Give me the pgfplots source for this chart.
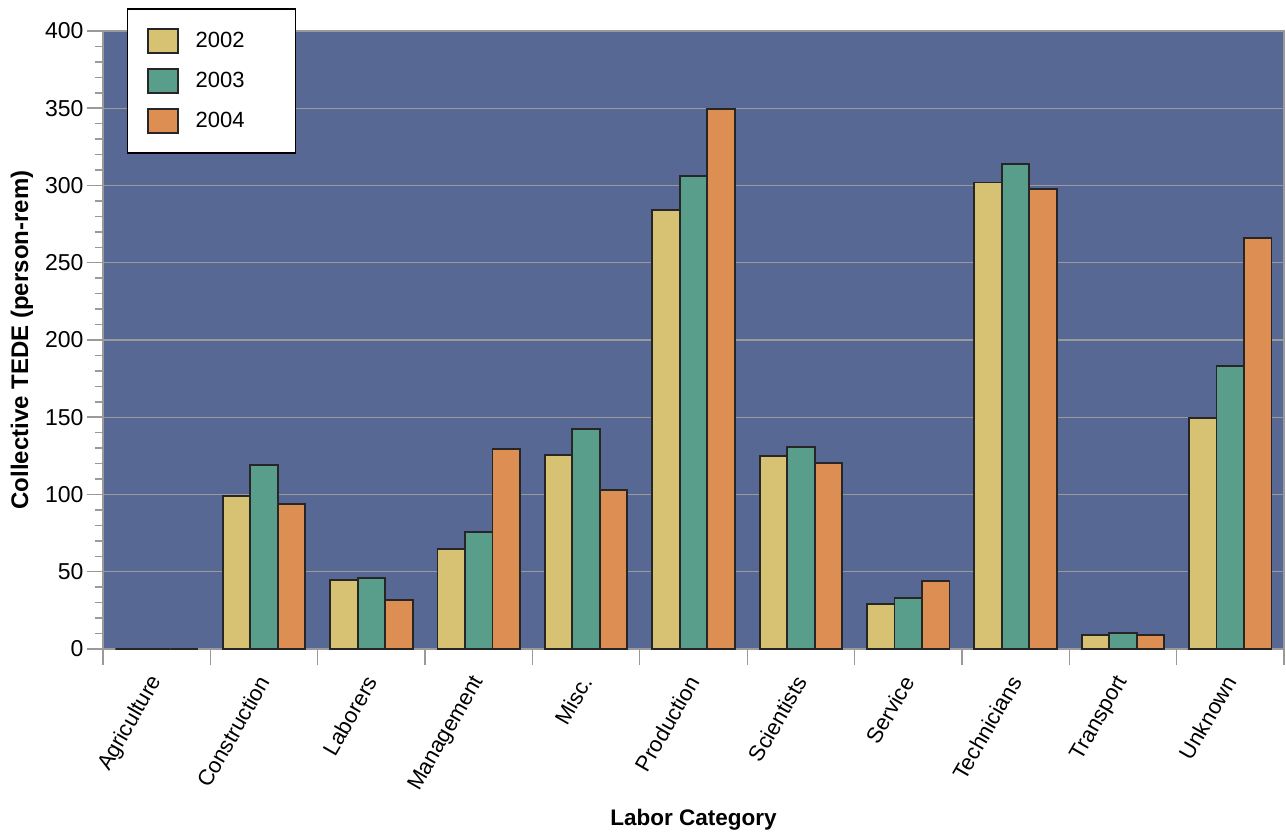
\documentclass[border=0pt]{standalone}
\usepackage{pgfplots}
\pgfplotsset{compat=1.18}
\usepackage{fontspec}
\setmainfont{Liberation Sans}
\definecolor{bgblue}{HTML}{566893}
\definecolor{cA}{HTML}{D7C173}
\definecolor{cB}{HTML}{589E8A}
\definecolor{cC}{HTML}{DD8F53}
\definecolor{edge}{HTML}{262626}
\definecolor{axgray}{HTML}{9A9A9A}
\begin{document}
\begin{tikzpicture}
\useasboundingbox (-103pt,-186pt) rectangle (1183pt,649pt);
\begin{axis}[
  scale only axis,
  width=1181pt, height=618pt,
  at={(0pt,0pt)}, anchor=south west,
  ybar=0pt, bar width=27.5pt,
  xmin=-0.5, xmax=10.5,
  ymin=0, ymax=400,
  enlarge x limits=false,
  axis background/.style={fill=bgblue},
  axis line style={axgray, line width=2.5pt},
  xtick pos=bottom, ytick pos=left,
  xtick={-0.5,0.5,...,10.5},
  xticklabels={},
  x tick style={axgray, line width=1.2pt},
  extra x ticks={0,...,10},
  extra x tick labels={Agriculture,Construction,Laborers,Management,Misc.,Production,Scientists,Service,Technicians,Transport,Unknown},
  extra x tick style={grid=none, tick style={draw=none}},
  ytick={0,50,...,400},
  minor y tick num=4,
  y tick style={axgray, line width=1.5pt},
  major tick length=16pt, minor tick length=8pt,
  tick align=outside,
  ymajorgrids, major grid style={axgray, line width=1.2pt},
  yticklabel style={font=\fontsize{23}{27}\selectfont, /pgf/number format/assume math mode=true},
  xticklabel style={font=\fontsize{22}{26}\selectfont, xshift=2pt, yshift=-10pt, rotate=60, anchor=east},
  xlabel={\bfseries Labor Category},
  ylabel={\bfseries Collective TEDE (person-rem)},
  xlabel style={font=\fontsize{22.5}{26}\selectfont\bfseries, at={(axis description cs:0.5,-0.2767)}, anchor=center},
  ylabel style={font=\fontsize{24}{28}\selectfont\bfseries, at={(axis description cs:-0.0686,0.5)}, anchor=center},
  every axis plot/.append style={draw=edge, line width=1.8pt},
  legend style={at={(0.0203,1.037)}, anchor=north west, draw=black, line width=1.5pt, fill=white,
    font=\fontsize{22}{26}\selectfont, row sep=0pt, column sep=0pt, inner xsep=0pt, inner ysep=12pt,
    nodes={inner sep=0pt}},
  legend cell align=left,
  legend image code/.code={\path[draw=none,fill=none] (-20pt,-20pt) rectangle (48pt,20pt);
    \draw[#1, line width=1.8pt] (0pt,-12pt) rectangle (30pt,12pt);},
]
\addplot[fill=cA] coordinates {(0,0) (1,99) (2,44.7) (3,64.7) (4,125.6) (5,284) (6,125) (7,29) (8,302) (9,9) (10,149.5)};
\addplot[fill=cB] coordinates {(0,0) (1,119) (2,46) (3,75.7) (4,142.4) (5,306) (6,130.7) (7,33) (8,314) (9,10.4) (10,183)};
\addplot[fill=cC] coordinates {(0,0) (1,94) (2,31.7) (3,129.4) (4,103) (5,349.5) (6,120.4) (7,44) (8,297.7) (9,9) (10,266)};
\legend{\makebox[100pt][l]{2002},\makebox[100pt][l]{2003},\makebox[100pt][l]{2004}}
\end{axis}
\end{tikzpicture}
\end{document}
